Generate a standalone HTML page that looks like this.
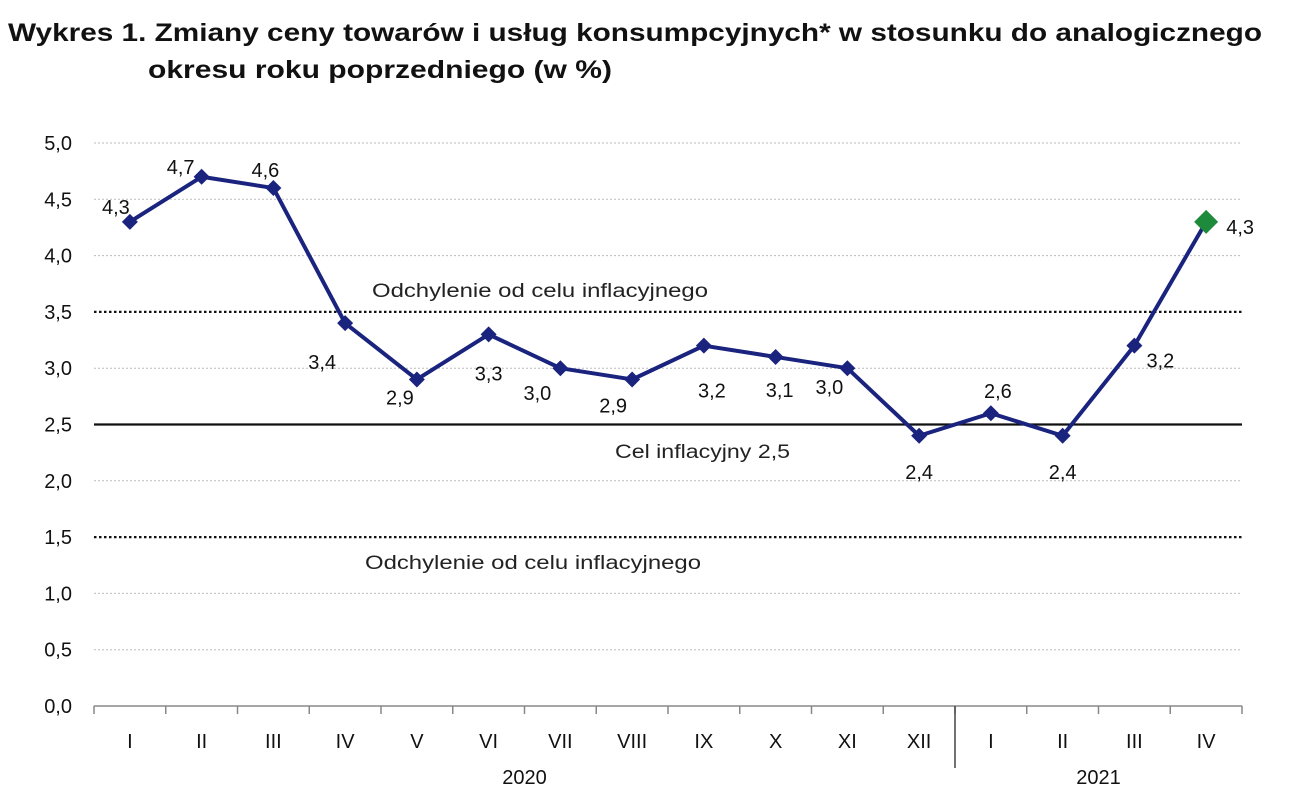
<!DOCTYPE html>
<html><head><meta charset="utf-8"><style>
body{margin:0;background:#fff;width:1290px;height:800px;overflow:hidden;font-family:"Liberation Sans","DejaVu Sans",sans-serif}
</style></head><body>
<svg width="1290" height="800" xmlns="http://www.w3.org/2000/svg" id="c">
<text x="8" y="41" font-size="25" font-weight="bold" fill="#111" textLength="1254" lengthAdjust="spacingAndGlyphs">Wykres 1. Zmiany ceny towarów i usług konsumpcyjnych* w stosunku do analogicznego</text>
<text x="148" y="78" font-size="25" font-weight="bold" fill="#111" textLength="464" lengthAdjust="spacingAndGlyphs">okresu roku poprzedniego (w %)</text>
</svg>
<script>
const categories=["I","II","III","IV","V","VI","VII","VIII","IX","X","XI","XII","I","II","III","IV"];
const values=[4.3,4.7,4.6,3.4,2.9,3.3,3.0,2.9,3.2,3.1,3.0,2.4,2.6,2.4,3.2,4.3];
const labels=["4,3","4,7","4,6","3,4","2,9","3,3","3,0","2,9","3,2","3,1","3,0","2,4","2,6","2,4","3,2","4,3"];
const yTicks=[0,0.5,1,1.5,2,2.5,3,3.5,4,4.5,5];
const yTickLabels=["0,0","0,5","1,0","1,5","2,0","2,5","3,0","3,5","4,0","4,5","5,0"];
const years=[{label:"2020",from:0,to:11},{label:"2021",from:12,to:15}];
const target=2.5, bandHi=3.5, bandLo=1.5;
const ns="http://www.w3.org/2000/svg",svg=document.getElementById('c');
const X0=94,X1=1242,Y0=706,Y1=143,cw=(X1-X0)/categories.length;
const y=v=>Y0-(v/5)*(Y0-Y1), x=i=>X0+cw*(i+0.5);
function mk(t,a,txt){const e=document.createElementNS(ns,t);for(const k in a)e.setAttribute(k,a[k]);if(txt!==undefined)e.textContent=txt;svg.appendChild(e);return e;}
yTicks.forEach((v,i)=>{
 if(v>0&&v!==target&&v!==bandHi&&v!==bandLo){const g=mk('line',{x1:X0,x2:X1,y1:y(v),y2:y(v),stroke:'#bbb','stroke-width':1,'stroke-dasharray':'2,2'});
 
 }
 const t=mk('text',{x:72,y:y(v)+7,'font-size':20,'text-anchor':'end',fill:'#111'},yTickLabels[i]);
 
 
});
[bandHi,bandLo].forEach(v=>{const l=mk('line',{x1:X0,x2:X1,y1:y(v),y2:y(v),stroke:'#111','stroke-width':2.2,'stroke-dasharray':'2.5,2.5'});
 
 });
const tl=mk('line',{x1:X0,x2:X1,y1:y(target),y2:y(target),stroke:'#111','stroke-width':2.2});


const a1=mk('text',{x:372,y:297,'font-size':19,fill:'#222',textLength:336,lengthAdjust:'spacingAndGlyphs'},'Odchylenie od celu inflacyjnego');


const a2=mk('text',{x:365,y:569,'font-size':19,fill:'#222',textLength:336,lengthAdjust:'spacingAndGlyphs'},'Odchylenie od celu inflacyjnego');


const a3=mk('text',{x:615,y:458,'font-size':19,fill:'#222',textLength:175,lengthAdjust:'spacingAndGlyphs'},'Cel inflacyjny 2,5');


const ax=mk('line',{x1:X0,x2:X1,y1:Y0,y2:Y0,stroke:'#888','stroke-width':1.5});


for(let i=0;i<=categories.length;i++){const tk=mk('line',{x1:X0+cw*i,x2:X0+cw*i,y1:Y0,y2:Y0+8,stroke:'#888','stroke-width':1.5});
 
 }
const sep=mk('line',{x1:X0+cw*12,x2:X0+cw*12,y1:Y0,y2:768,stroke:'#444','stroke-width':1.5});


categories.forEach((c,i)=>{const t=mk('text',{x:x(i),y:748,'font-size':20,'text-anchor':'middle',fill:'#111'},c);
 
 });
years.forEach(yr=>{const t=mk('text',{x:(x(yr.from)+x(yr.to))/2,y:784,'font-size':20,'text-anchor':'middle',fill:'#111'},yr.label);
 
 });
const pl=mk('polyline',{points:values.map((v,i)=>x(i)+','+y(v)).join(' '),fill:'none',stroke:'#1a237e','stroke-width':4,'stroke-linejoin':'round'});


values.forEach((v,i)=>{const last=i===values.length-1;const s=last?12:8;
 const d=mk('polygon',{points:`${x(i)},${y(v)-s} ${x(i)+s},${y(v)} ${x(i)},${y(v)+s} ${x(i)-s},${y(v)}`,fill:last?'#1e8a3c':'#1a237e'});
 
 
});
const lp=[[-14,-8],[-21,-3],[-8,-11],[-23,46],[-17,25],[0,46],[-23,32],[-19,33],[8,52],[4,40],[-18,26],[0,43],[7,-15],[0,43],[26,22],[34,12]];
values.forEach((v,i)=>{const t=mk('text',{x:x(i)+lp[i][0],y:y(v)+lp[i][1],'font-size':20,'text-anchor':'middle',fill:'#111'},labels[i]);
 
 });
</script>
</body></html>
